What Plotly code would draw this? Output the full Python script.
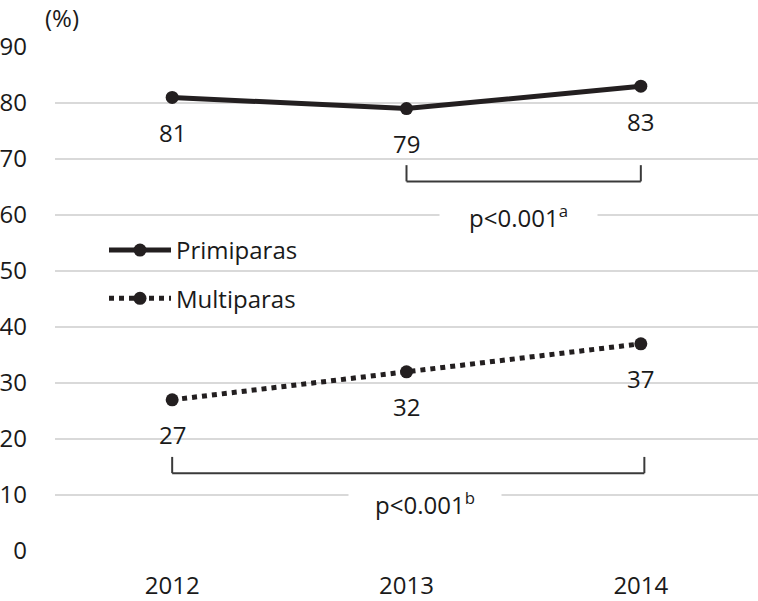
import plotly.graph_objects as go

years = [2012, 2013, 2014]
primiparas = [81, 79, 83]
multiparas = [27, 32, 37]
y_ticks = [0, 10, 20, 30, 40, 50, 60, 70, 80, 90]

# brackets: (x_start, x_end, y_bottom, y_top, label, label_x, label_y)
bracket_a = dict(x0=2013, x1=2014, yb=66.0, yt=68.9, text="p<0.001<sup>a</sup>", tx=2013.48, ty=59.8, bw=155)
bracket_b = dict(x0=2012, x1=2014.015, yb=13.9, yt=16.8, text="p<0.001<sup>b</sup>", tx=2013.08, ty=8.4, bw=150)

FONT = "Open Sans"
FS = 24
DARK = "#231f20"
TXT = "#1a1a1a"

W, H = 758, 601
ml, mr, mt, mb = 55, 0, 47, 50
pw, ph = W - ml - mr, H - mt - mb


def px_x(px):
    return (px - ml) / pw


def px_y(py):
    return (H - mb - py) / ph


fig = go.Figure()
fig.add_trace(go.Scatter(
    x=years, y=primiparas, name="Primiparas", mode="lines+markers",
    line=dict(color=DARK, width=5), marker=dict(color=DARK, size=13),
    legendgroup="a"))
fig.add_trace(go.Scatter(
    x=years, y=multiparas, name="Multiparas", mode="lines+markers",
    line=dict(color=DARK, width=5, dash="dot"), marker=dict(color=DARK, size=13),
    legendgroup="b"))

annotations = []
for series in (primiparas, multiparas):
    for xv, yv in zip(years, series):
        annotations.append(dict(x=xv, y=yv, xref="x", yref="y", text=str(yv),
                                showarrow=False, yshift=-35, xanchor="center", yanchor="middle",
                                font=dict(family=FONT, size=FS, color=TXT)))

shapes = []
for b in (bracket_a, bracket_b):
    lc = dict(color="#3a3a3a", width=2)
    shapes.append(dict(type="line", xref="x", yref="y", x0=b["x0"], x1=b["x1"], y0=b["yb"], y1=b["yb"], line=lc))
    shapes.append(dict(type="line", xref="x", yref="y", x0=b["x0"], x1=b["x0"], y0=b["yb"], y1=b["yt"], line=lc))
    shapes.append(dict(type="line", xref="x", yref="y", x0=b["x1"], x1=b["x1"], y0=b["yb"], y1=b["yt"], line=lc))
    annotations.append(dict(x=b["tx"], y=b["ty"], xref="x", yref="y", text=b["text"],
                            showarrow=False, bgcolor="white", width=b["bw"],
                            xanchor="center", yanchor="middle",
                            font=dict(family=FONT, size=FS, color=TXT)))

annotations.append(dict(x=px_x(62), y=px_y(18), xref="paper", yref="paper", text="(%)",
                        showarrow=False, xanchor="center", yanchor="middle",
                        font=dict(family=FONT, size=FS, color=TXT)))

fig.update_layout(
    width=W, height=H,
    margin=dict(l=ml, r=mr, t=mt, b=mb),
    plot_bgcolor="white", paper_bgcolor="white",
    font=dict(family=FONT, size=FS, color=TXT),
    showlegend=True,
    legend=dict(x=px_x(104), y=px_y(228), xanchor="left", yanchor="top",
                bgcolor="rgba(0,0,0,0)", itemwidth=62, tracegroupgap=14,
                traceorder="grouped", font=dict(family=FONT, size=FS, color=TXT)),
    xaxis=dict(range=[2011.5, 2014.5], tickvals=years, ticktext=[str(y) for y in years],
               showgrid=False, zeroline=False, showline=False, ticks="",
               ticklabelstandoff=18, tickfont=dict(family=FONT, size=FS, color=TXT)),
    yaxis=dict(range=[0, 90], tickvals=y_ticks, showgrid=True, gridcolor="#d9d9d9", gridwidth=1.5,
               zeroline=False, showline=False, ticks="", ticklabelstandoff=27,
               tickfont=dict(family=FONT, size=FS, color=TXT)),
    shapes=shapes, annotations=annotations,
)
fig.write_html("out.html", config={"displayModeBar": False},
               post_script="document.body.style.margin='0';")
